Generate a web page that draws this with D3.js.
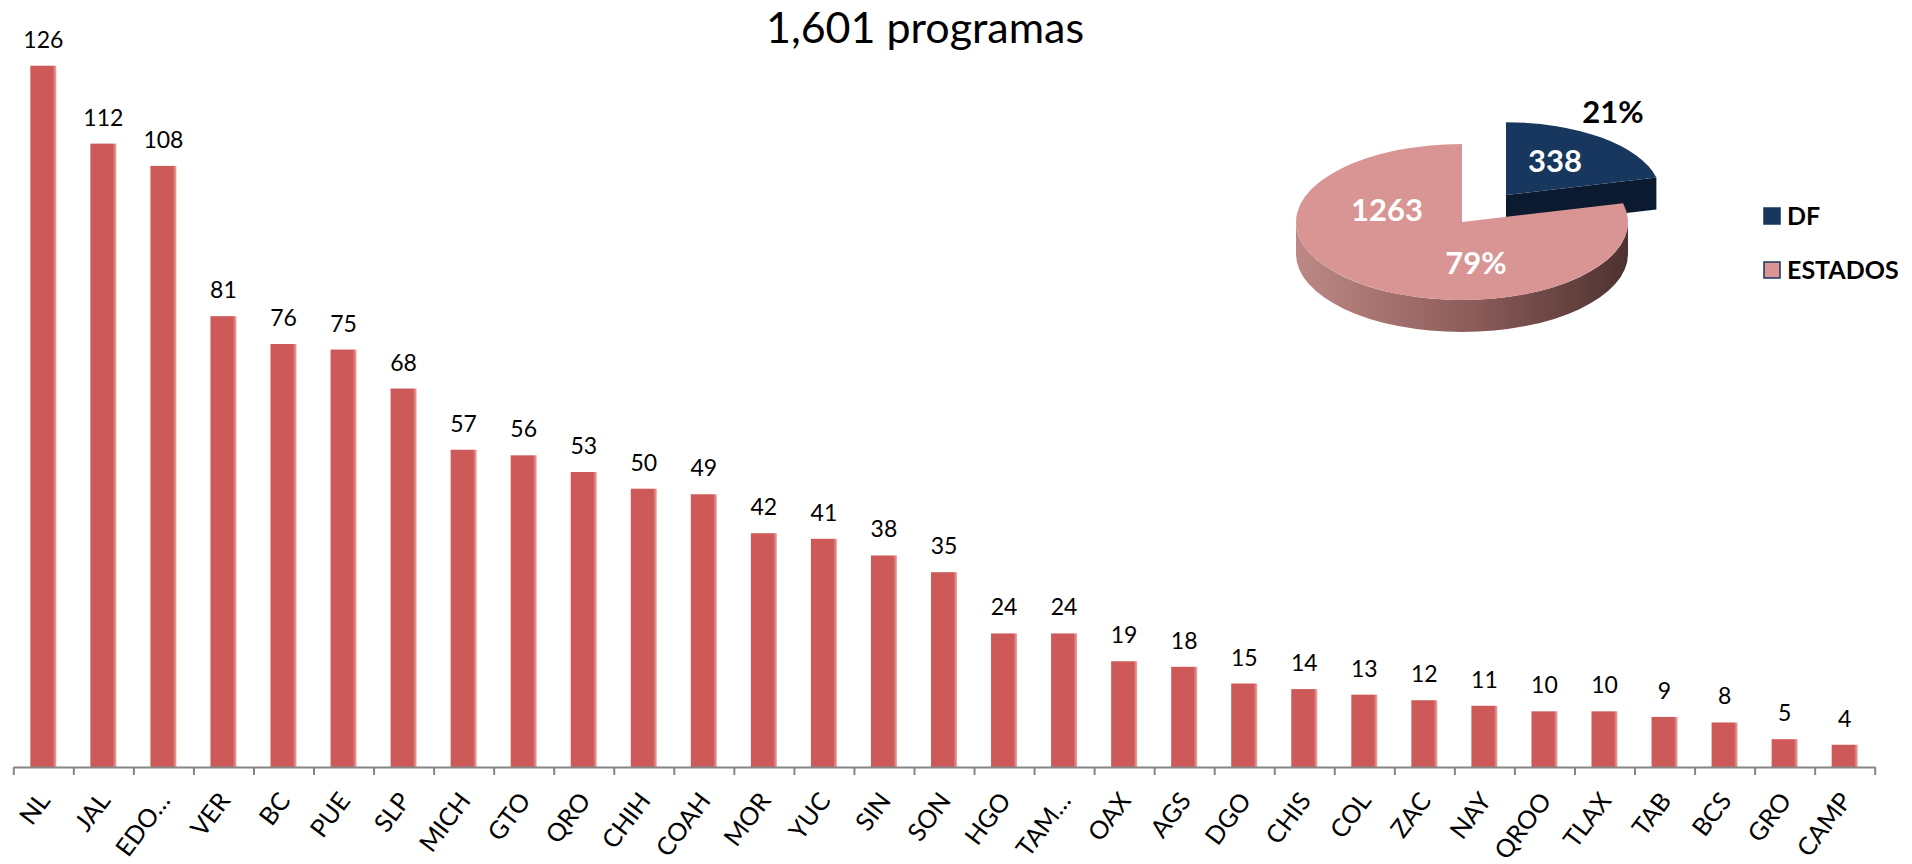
<!DOCTYPE html>
<html>
<head>
<meta charset="utf-8">
<script src="https://cdn.jsdelivr.net/npm/d3@7"></script>
<style>
  body { margin: 0; background: #fff; }
  text { font-family: Lato, "Open Sans", sans-serif; }
</style>
</head>
<body>
<div id="chart"></div>
<script>
// data
var title = "1,601 programas";
var categories = ["NL","JAL","EDO…","VER","BC","PUE","SLP","MICH","GTO","QRO","CHIH","COAH","MOR","YUC","SIN","SON","HGO","TAM…","OAX","AGS","DGO","CHIS","COL","ZAC","NAY","QROO","TLAX","TAB","BCS","GRO","CAMP"];
var values = [126,112,108,81,76,75,68,57,56,53,50,49,42,41,38,35,24,24,19,18,15,14,13,12,11,10,10,9,8,5,4];
var pieNames = ["DF","ESTADOS"];
var pieValues = [338, 1263];
var piePercents = ["21%","79%"];
var pieColors = ["#17375e","#d99594"];

var width = 1912, height = 864;
var axisY = 767, left = 13.3, right = 1874.7, topY = 65.7;

var svg = d3.select("#chart")
  .append("svg")
    .attr("width", width)
    .attr("height", height);

var defs = svg.append("defs");
var bg = defs.append("linearGradient").attr("id", "barGrad");
bg.append("stop").attr("offset", "0%").attr("stop-color", "#cd5a58");
bg.append("stop").attr("offset", "86%").attr("stop-color", "#cd5a58");
bg.append("stop").attr("offset", "100%").attr("stop-color", "#eba9a8");

var sg = defs.append("linearGradient").attr("id", "sideGrad");
sg.append("stop").attr("offset", "0%").attr("stop-color", "#bd8886");
sg.append("stop").attr("offset", "50%").attr("stop-color", "#8f5f5d");
sg.append("stop").attr("offset", "100%").attr("stop-color", "#4d3230");

// title
svg.append("text")
  .attr("x", 925)
  .attr("y", 43)
  .attr("text-anchor", "middle")
  .attr("font-size", "43px")
  .text(title);

// scales
var x = d3.scaleBand()
  .domain(categories)
  .range([left, right])
  .padding(0);

var y = d3.scaleLinear()
  .domain([0, d3.max(values)])
  .range([axisY, topY]);

var barW = 26;

// bars
svg.selectAll("rect.bar")
  .data(values)
  .enter()
  .append("rect")
    .attr("class", "bar")
    .attr("x", function(d, i) { return x(categories[i]) + (x.bandwidth() - barW) / 2; })
    .attr("y", function(d) { return y(d); })
    .attr("width", barW)
    .attr("height", function(d) { return axisY - y(d); })
    .attr("fill", "url(#barGrad)");

// value labels
svg.selectAll("text.val")
  .data(values)
  .enter()
  .append("text")
    .attr("class", "val")
    .attr("x", function(d, i) { return x(categories[i]) + x.bandwidth() / 2; })
    .attr("y", function(d) { return y(d) - 18; })
    .attr("text-anchor", "middle")
    .attr("font-size", "23px")
    .text(function(d) { return d; });

// x axis, ticks between categories
var xi = d3.scaleLinear().domain([0, categories.length]).range([left, right]);
var axis = svg.append("g")
  .attr("transform", "translate(0," + axisY + ")")
  .call(d3.axisBottom(xi)
    .tickValues(d3.range(categories.length + 1))
    .tickFormat("")
    .tickSize(8)
    .tickSizeOuter(0));
axis.select(".domain").attr("stroke", "#868686").attr("stroke-width", 2);
axis.selectAll(".tick line").attr("stroke", "#868686").attr("stroke-width", 2);

// category labels
svg.selectAll("text.cat")
  .data(categories)
  .enter()
  .append("text")
    .attr("class", "cat")
    .attr("text-anchor", "end")
    .attr("font-size", "25px")
    .attr("transform", function(d) {
      return "translate(" + (x(d) + x.bandwidth() / 2 + 8) + "," + (axisY + 34) + ") rotate(-53)";
    })
    .text(function(d) { return d; });

// 3D pie
var cx = 1462, cy = 222, rx = 166, ry = 78, depth = 32;
var k = ry / rx, D = depth / k;
var slices = d3.pie().sort(null).value(function(d) { return d; })(pieValues);
var explode = [[44, -27], [0, 0]];
var radius = [155, rx];

var pie = svg.append("g").attr("transform", "translate(" + cx + "," + cy + ")");

// DF slice (drawn first, sits behind)
var df = slices[0];
var gDF = pie.append("g")
  .attr("transform", "translate(" + explode[0][0] + "," + explode[0][1] + ")scale(1," + k + ")");
var r0 = radius[0];
var px = r0 * Math.sin(df.endAngle), py = -r0 * Math.cos(df.endAngle);
gDF.append("path")
  .attr("d", "M0,0L" + px + "," + py + "L" + px + "," + (py + D) + "L0," + D + "Z")
  .attr("fill", "#0b1a2e");
gDF.append("path")
  .attr("d", d3.arc().innerRadius(0).outerRadius(r0)(df))
  .attr("fill", pieColors[0]);

// ESTADOS slice
var est = slices[1];
var gE = pie.append("g")
  .attr("transform", "translate(" + explode[1][0] + "," + explode[1][1] + ")scale(1," + k + ")");
var side = d3.path();
side.moveTo(rx, 0);
side.arc(0, 0, rx, 0, Math.PI);
side.lineTo(-rx, D);
side.arc(0, D, rx, Math.PI, 0, true);
side.closePath();
gE.append("path")
  .attr("d", side.toString())
  .attr("fill", "url(#sideGrad)");
gE.append("path")
  .attr("d", d3.arc().innerRadius(0).outerRadius(rx)(est))
  .attr("fill", pieColors[1]);

// pie labels
var lab = pie.append("g").attr("font-weight", "bold").attr("text-anchor", "middle");
lab.append("text").attr("x", -75).attr("y", -1).attr("font-size", "31px").attr("fill", "#fff").text(pieValues[1]);
lab.append("text").attr("x", 14).attr("y", 52).attr("font-size", "31px").attr("fill", "#fff").text(piePercents[1]);
lab.append("text").attr("x", 93).attr("y", -50).attr("font-size", "31px").attr("fill", "#fff").text(pieValues[0]);
lab.append("text").attr("x", 151).attr("y", -99).attr("font-size", "31px").attr("fill", "#000").text(piePercents[0]);

// legend
var leg = svg.append("g").attr("transform", "translate(1764,208)");
var items = leg.selectAll("g")
  .data(pieNames)
  .enter()
  .append("g")
    .attr("transform", function(d, i) { return "translate(0," + (i * 54) + ")"; });
items.append("rect")
  .attr("width", 16)
  .attr("height", 16)
  .attr("fill", function(d, i) { return pieColors[i]; })
  .attr("stroke", "#17375e")
  .attr("stroke-width", 1.5);
items.append("text")
  .attr("x", 23)
  .attr("y", 17)
  .attr("font-size", "25px")
  .attr("font-weight", "bold")
  .text(function(d) { return d; });
</script>
</body>
</html>
